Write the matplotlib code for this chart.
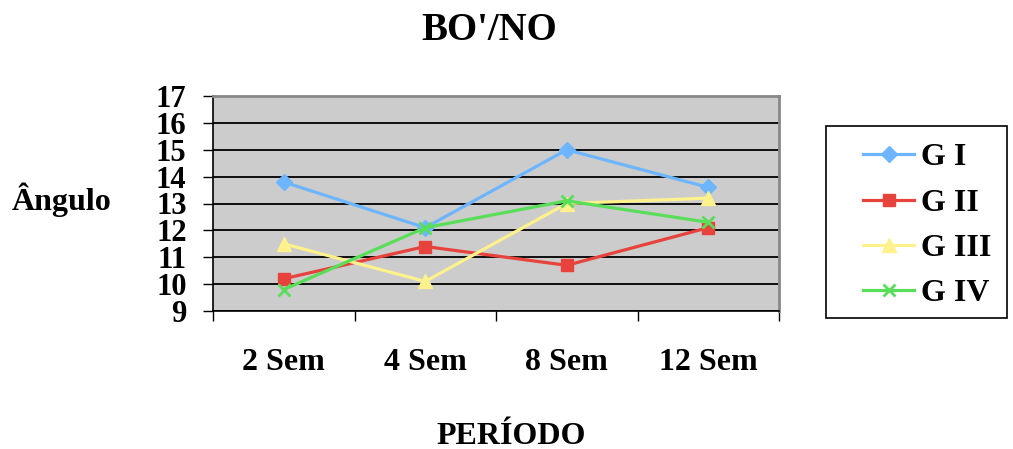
import matplotlib
matplotlib.use("Agg")
import matplotlib.pyplot as plt
from matplotlib.patches import Rectangle

# Data
periods = ["2 Sem", "4 Sem", "8 Sem", "12 Sem"]
g1 = [13.8, 12.1, 15.0, 13.6]
g2 = [10.2, 11.4, 10.7, 12.1]
g3 = [11.5, 10.1, 13.0, 13.2]
g4 = [9.8, 12.1, 13.1, 12.3]
series_names = ["G I", "G II", "G III", "G IV"]
y_ticks = list(range(9, 18))

W, H = 1013, 449
plt.rcParams["font.family"] = ["Liberation Serif", "DejaVu Serif"]
plt.rcParams["font.weight"] = "bold"

fig = plt.figure(figsize=(W / 100, H / 100), dpi=100)
ax = fig.add_axes([213 / W, 1 - 311 / H, (779 - 213) / W, (311 - 96) / H])
ax.set_facecolor("#CCCCCC")

styles = [
    dict(color="#6DB6FF", marker="D", markersize=8),
    dict(color="#E8423C", marker="s", markersize=9),
    dict(color="#FFF18C", marker="^", markersize=10),
    dict(color="#58DE58", marker="x", markersize=9, markeredgewidth=2),
]
x = list(range(len(periods)))
for vals, name, st in zip([g1, g2, g3, g4], series_names, styles):
    ax.plot(x, vals, linewidth=2.3, label=name, zorder=3, **st)

ax.set_xlim(-0.5, len(periods) - 0.5)
ax.set_ylim(9, 17)
ax.set_yticks(y_ticks)
ax.set_yticklabels([str(t) for t in y_ticks], fontsize=22, fontweight="bold")
ax.set_xticks(x)
ax.set_xticklabels(periods, fontsize=23, fontweight="bold")
ax.tick_params(axis="x", length=0, pad=27)
ax.tick_params(axis="y", length=7, width=1, direction="out", pad=12)
ax.set_xticks([i - 0.5 for i in range(len(periods) + 1)], minor=True)
ax.tick_params(axis="x", which="minor", length=7, width=1, direction="out")
ax.yaxis.grid(True, color="black", linewidth=1.3, zorder=1)
ax.set_axisbelow(True)

for s in ("left", "bottom"):
    ax.spines[s].set_color("black")
    ax.spines[s].set_linewidth(1.2)
for s in ("top", "right"):
    ax.spines[s].set_color("#888888")
    ax.spines[s].set_linewidth(2)

fig.text(489 / W, 1 - 31 / H, "BO'/NO", ha="center", va="center",
         fontsize=28, fontweight="bold")
fig.text(12 / W, 1 - 200 / H, "Ângulo", ha="left", va="center",
         fontsize=23, fontweight="bold")
fig.text(511 / W, 1 - 436 / H, "PERÍODO", ha="center", va="center",
         fontsize=23, fontweight="bold")

# Legend box and entries
fig.patches.append(Rectangle((826 / W, 1 - 318 / H), (1007 - 826) / W,
                             (318 - 126) / H, transform=fig.transFigure,
                             facecolor="white", edgecolor="black",
                             linewidth=1.2, zorder=1))
leg = fig.legend(loc="upper left", bbox_to_anchor=(863 / W, 1 - 143 / H),
                 frameon=False,
                 prop=dict(family="Liberation Serif", weight="bold", size=23),
                 handlelength=1.6, handletextpad=0.2, labelspacing=0.5,
                 borderpad=0, borderaxespad=0)
leg.set_zorder(2)

fig.savefig("out.png", dpi=100)
